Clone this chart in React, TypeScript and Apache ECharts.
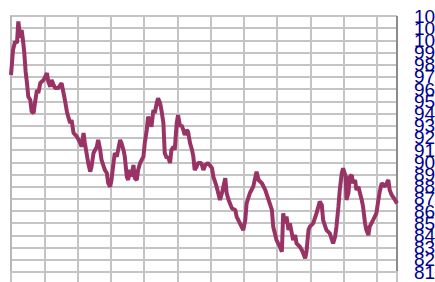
import React, { useEffect, useRef } from "react";
import * as echarts from "echarts";

// Trading-day index (x) and index level (y)
const days = [
  0, 3, 6, 9, 11, 14, 16, 18, 20, 22, 24, 26, 29, 31, 34, 36, 39, 41, 44, 49,
  54, 56, 59, 61, 66, 71, 76, 81, 84, 86, 89, 91, 94, 99, 104, 106, 109, 111, 116, 119,
  121, 124, 129, 131, 134, 136, 141, 144, 146, 149, 151, 154, 156, 159, 161, 164, 166, 169, 171, 174,
  176, 179, 181, 184, 186, 189, 191, 194, 199, 201, 204, 206, 209, 211, 214, 216, 219, 221, 224, 226,
  229, 231, 234, 236, 239, 241, 244, 246, 249, 251, 254, 256, 259, 261, 264, 266, 269, 272, 274, 276,
  279, 281, 286, 289, 292, 296, 302, 304, 309, 314, 317, 322, 324, 327, 332, 337, 339, 344, 349, 352,
  354, 359, 364, 369, 372, 377, 382, 387, 392, 394, 399, 404, 407, 409, 412, 414, 417, 419, 422, 424,
  427, 429, 434, 437, 442, 444, 447, 449, 454, 459, 464, 467, 469, 474, 479, 484, 487, 489, 492, 494,
  497, 499, 503, 504, 507, 509, 512, 514, 517, 519, 522, 527, 529, 532, 534, 537, 539, 544, 549, 552,
  554, 557, 562, 567, 569, 572, 577, 580,
];
const values = [
  97.16, 99.21, 99.89, 99.79, 101.55, 100.2, 100.85, 100.03, 98.96, 97.43, 96.5, 95.38, 95.11, 94.15, 94.04, 94.86, 95.93, 95.68, 96.5, 96.75,
  97.32, 96.61, 96.2, 96.75, 96.09, 96.09, 96.5, 95.11, 94.15, 93.74, 93.22, 93.47, 92.4, 92.1, 91.58, 91.28, 92.4, 91.58, 89.94, 89.23,
  89.64, 90.76, 91.28, 91.83, 91.01, 90.19, 89.37, 89.12, 88.3, 88.0, 88.55, 89.94, 90.76, 90.46, 91.01, 91.83, 91.58, 91.01, 90.46, 88.82,
  88.55, 89.37, 88.82, 89.78, 88.69, 88.55, 89.37, 89.94, 90.46, 91.58, 92.65, 93.74, 93.22, 92.92, 94.29, 94.04, 94.86, 95.25, 94.86, 94.29,
  93.22, 90.76, 90.35, 90.46, 89.94, 91.01, 91.28, 91.01, 93.22, 93.88, 92.92, 93.06, 92.65, 92.24, 92.65, 92.51, 91.58, 91.01, 90.46, 89.37,
  89.64, 89.94, 89.94, 89.37, 89.78, 89.94, 89.53, 88.82, 88.0, 86.91, 87.48, 88.69, 87.48, 86.91, 86.22, 86.09, 85.54, 84.99, 84.44, 85.26,
  86.63, 87.48, 88.0, 89.23, 88.55, 88.28, 87.73, 86.91, 86.09, 84.72, 83.62, 83.07, 82.66, 85.81, 84.99, 85.54, 84.44, 84.99, 84.17, 83.62,
  84.03, 83.35, 83.07, 82.8, 82.12, 82.66, 84.44, 84.72, 84.99, 85.81, 86.77, 86.5, 85.26, 84.44, 84.17, 83.35, 83.9, 84.72, 86.36, 87.73,
  89.1, 89.51, 88.82, 86.91, 87.48, 88.82, 88.96, 88.28, 88.55, 87.73, 88.0, 86.91, 86.36, 84.99, 84.44, 84.03, 84.72, 85.26, 85.81, 86.91,
  87.59, 88.28, 88.0, 88.55, 87.73, 87.32, 86.91, 86.63,
];

// Y tick labels, bottom to top
const yTickLabels = [
  "81", "82", "83", "84", "85", "86", "87", "88", "89", "90", "91",
  "92", "93", "94", "95", "96", "97", "98", "99", "100", "101", "102",
];

const yMin = 81;
const yMax = 102;
const xMin = 0;
const xMax = 580;
const xStep = 50;

export default function App() {
  const ref = useRef<HTMLDivElement>(null);

  useEffect(() => {
    if (!ref.current) return;
    const chart = echarts.init(ref.current, undefined, { renderer: "svg" });
    const seriesData = days.map((d, i) => [d, values[i]]);
    const vColors = ["#8c8c8c"].concat(new Array(11).fill("#c4c4c4"));
    chart.setOption({
      animation: false,
      backgroundColor: "#ffffff",
      grid: {
        left: 11,
        right: 38,
        top: 16,
        bottom: 10,
        containLabel: false,
        outerBoundsMode: "none",
      },
      xAxis: {
        type: "value",
        min: xMin,
        max: xMax,
        interval: xStep,
        axisLine: { show: true, lineStyle: { color: "#c4c4c4", width: 2 } },
        axisTick: { show: true, length: 10, lineStyle: { color: "#c4c4c4", width: 2 } },
        axisLabel: { show: false },
        splitLine: { show: true, lineStyle: { color: vColors, width: 2 } },
      },
      yAxis: [
        {
          type: "value",
          position: "right",
          min: yMin,
          max: yMax,
          interval: 1,
          axisLine: { show: true, lineStyle: { color: "#b8b8b8", width: 2 } },
          axisTick: { show: false },
          axisLabel: { show: false },
          splitLine: { show: true, lineStyle: { color: "#c4c4c4", width: 2 } },
        },
        {
          type: "category",
          position: "right",
          data: yTickLabels,
          boundaryGap: false,
          axisLine: { show: false },
          axisTick: { show: false },
          splitLine: { show: false },
          axisLabel: {
            show: true,
            interval: 0,
            hideOverlap: false,
            color: "#00008b",
            fontSize: 19,
            fontFamily: "'Liberation Sans Narrow', 'Liberation Sans', Arial, sans-serif",
            margin: 17,
          },
        },
      ],
      series: [
        {
          type: "line",
          yAxisIndex: 0,
          data: seriesData,
          showSymbol: false,
          symbol: "none",
          lineStyle: { color: "#993366", width: 4 },
          z: 5,
        },
      ],
    });
    return () => chart.dispose();
  }, []);

  return (
    <div
      ref={ref}
      style={{ position: "fixed", left: 0, top: 0, width: 435, height: 282 }}
    />
  );
}
